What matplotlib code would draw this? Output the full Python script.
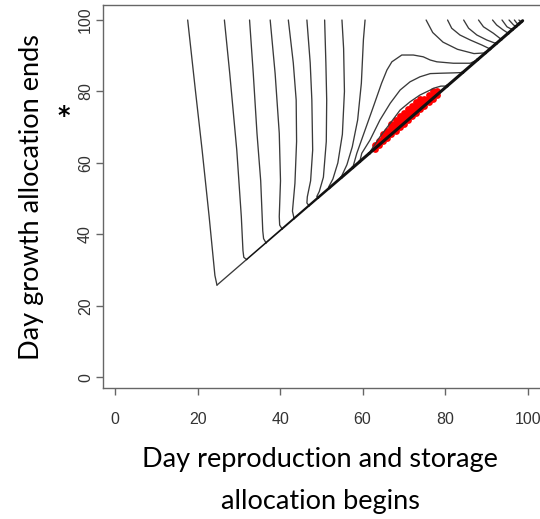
import matplotlib
matplotlib.use("Agg")
import matplotlib.pyplot as plt

# ---- data -----------------------------------------------------------------
ticks = [0, 20, 40, 60, 80, 100]

# contour lines that fall from the top edge down to the boundary y = x
drop_x = [
    [17.6, 19.5, 21.1, 22.8, 24.2, 24.7],
    [26.5, 27.8, 29.5, 30.6, 31.0, 31.2, 31.9],
    [32.6, 33.5, 34.4, 35.3, 35.8, 36.0, 36.6],
    [37.6, 38.8, 39.8, 40.1, 39.8, 39.9, 40.5],
    [42.0, 43.2, 43.9, 44.0, 43.6, 43.0, 43.4],
    [46.5, 47.3, 47.7, 47.9, 47.4, 46.6, 46.5, 47.0],
    [50.8, 51.1, 51.3, 51.2, 50.5, 49.5, 48.9, 49.2],
    [55.0, 55.4, 55.6, 55.1, 54.0, 52.8, 51.8, 51.9],
    [60.6, 60.2, 59.7, 58.8, 57.5, 56.2, 55.0, 54.8],
]
drop_y = [
    [100, 80, 63.6, 45, 28.5, 25.8],
    [100, 85, 63.6, 45, 35.5, 33.6, 32.9],
    [100, 85, 68.3, 55, 41, 38.8, 37.6],
    [100, 85, 68.3, 55, 45, 42.6, 41.5],
    [100, 88, 77.6, 66, 54.3, 46.5, 44.4],
    [100, 88, 77.6, 63.6, 55, 50.5, 48.8, 48.0],
    [100, 88, 77.6, 66, 56, 52, 50.6, 50.2],
    [100, 92, 80, 68, 60, 55.5, 53.3, 52.9],
    [100, 94.5, 82.3, 72, 64.5, 59.5, 56.5, 55.8],
]

# contour lines that leave the boundary and come back to it around the optimum
loop_x = [
    [57.6, 58.6, 60.6, 62.6, 64.6, 65.9, 67.1, 69.5, 72.3, 74.7, 76.4, 78.0, 82.0, 86.1, 87.9],
    [59.3, 59.8, 61.8, 64.2, 66.7, 69.1, 71.5, 73.9, 76.4, 78.8, 82.0, 84.3],
    [61.6, 61.9, 62.6, 64.2, 66.7, 69.1, 71.5, 73.9, 76.4, 77.2, 79.0, 80.5],
]
loop_y = [
    [58.6, 62.7, 69.2, 75.7, 82.3, 86.0, 88.3, 90.2, 90.2, 89.7, 88.8, 88.3, 87.9, 87.9, 88.9],
    [60.3, 62.7, 66.4, 72.0, 76.7, 80.4, 82.7, 84.1, 85.0, 85.1, 85.2, 85.3],
    [62.6, 63.3, 64.5, 67.3, 71.1, 74.8, 77.1, 79.0, 80.4, 80.9, 81.5, 81.5],
]

# contour lines bending into the upper-right corner
corner_x = [
    [75.4, 77.0, 79.5, 83.0, 87.0, 89.8],
    [80.6, 81.6, 83.6, 86.1, 88.9, 90.9],
    [84.5, 85.7, 87.7, 90.1, 92.4],
    [88.1, 89.3, 91.7, 93.6],
    [91.5, 92.5, 94.1, 95.3],
    [93.8, 95.0, 96.3],
    [95.5, 96.6, 97.2],
    [96.8, 97.4, 97.9],
    [97.9, 98.3, 98.5],
]
corner_y = [
    [100, 96.5, 93.8, 91.8, 90.6, 90.8],
    [100, 97.7, 95.8, 94.4, 93.0, 91.9],
    [100, 97.7, 95.8, 94.4, 93.4],
    [100, 98.1, 96.3, 94.6],
    [100, 98.6, 97.2, 96.3],
    [100, 98.1, 97.3],
    [100, 98.6, 98.2],
    [100, 99.1, 98.9],
    [100, 99.5, 99.5],
]

# feasible boundary (growth must end after reproduction begins)
boundary_x = [24.7, 98.8]
boundary_y = [25.8, 99.8]

# best-scoring schedules: for each start day, the range of end days
best_x = [63, 64, 65, 66, 67, 68, 69, 70, 71, 72, 73, 74, 75, 76, 77, 78]
best_ylo = [64, 65, 66, 67, 68, 69, 70, 71, 72, 73, 74, 75, 76, 77, 78, 79]
best_yhi = [65, 66, 68, 69, 71, 72, 73, 74, 75, 76, 77, 78, 78, 79, 80, 80]

# ---- figure ---------------------------------------------------------------
W, H = 540, 519
fig = plt.figure(figsize=(W / 100, H / 100), dpi=100)
fig.patch.set_facecolor("white")

ax_l, ax_r, ax_b, ax_t = 102.7, 544.1, 388.0, 5.0
ax = fig.add_axes([ax_l / W, 1 - ax_b / H, (ax_r - ax_l) / W, (ax_b - ax_t) / H])
ax.set_xlim(-3, 104)
ax.set_ylim(-3, 104.2)

line_kw = dict(color="#3a3a3a", lw=0.95, solid_joinstyle="round", solid_capstyle="round")

# optimum points (under the contour lines)
px, py = [], []
for x, lo, hi in zip(best_x, best_ylo, best_yhi):
    for y in range(lo, hi + 1):
        px.append(x)
        py.append(y)
ax.scatter(px, py, s=24, color="#ff0000", linewidths=0, zorder=2)

for xs, ys in zip(drop_x, drop_y):
    ax.plot(xs, ys, zorder=3, **line_kw)
for xs, ys in zip(loop_x, loop_y):
    ax.plot(xs, ys, zorder=3, **line_kw)
for xs, ys in zip(corner_x, corner_y):
    ax.plot(xs, ys, zorder=3, **line_kw)

# boundary: contours pile up along it, so it darkens as more of them join
joins = sorted([xs[-1] for xs in drop_x] + [xs[0] for xs in loop_x]
               + [xs[-1] for xs in loop_x] + [xs[-1] for xs in corner_x])
joins = [boundary_x[0]] + [j for j in joins if j > boundary_x[0]] + [boundary_x[1]]
slope = (boundary_y[1] - boundary_y[0]) / (boundary_x[1] - boundary_x[0])
for k in range(len(joins) - 1):
    xa, xb = joins[k], joins[k + 1]
    ya = boundary_y[0] + slope * (xa - boundary_x[0])
    yb = boundary_y[0] + slope * (xb - boundary_x[0])
    lw = min(0.95 + 0.15 * k, 2.2)
    col = "#3a3a3a" if k == 0 else "#111111"
    ax.plot([xa, xb], [ya, yb], color=col, lw=lw, solid_capstyle="round", zorder=4)

# axes styling
for sp in ax.spines.values():
    sp.set_color("#666666")
    sp.set_linewidth(1.0)
ax.set_xticks(ticks)
ax.set_yticks(ticks)
ax.tick_params(axis="both", direction="out", length=5, width=1.0, color="#666666",
               labelsize=11.5, labelcolor="#333333")
ax.tick_params(axis="x", pad=12.5)
ax.tick_params(axis="y", pad=2, labelrotation=90)
for lbl in ax.get_xticklabels() + ax.get_yticklabels():
    lbl.set_fontfamily("Liberation Sans")
for lbl in ax.get_yticklabels():
    lbl.set_va("center")

# axis titles
lab_font = dict(family="Lato", size=19.5, color="#000000")
fig.text(32 / W, 1 - 197.5 / H, "Day growth allocation ends", rotation=90,
         ha="center", va="center", **lab_font)
fig.text(320 / W, 1 - 460 / H, "Day reproduction and storage",
         ha="center", va="center", **lab_font)
fig.text(320 / W, 1 - 501.7 / H, "allocation begins",
         ha="center", va="center", **lab_font)
fig.text(63.3 / W, 1 - 123 / H, "*", ha="center", va="baseline",
         family="DejaVu Sans", weight="bold", size=17, color="#000000")

fig.savefig("out.png", dpi=100, facecolor="white")
